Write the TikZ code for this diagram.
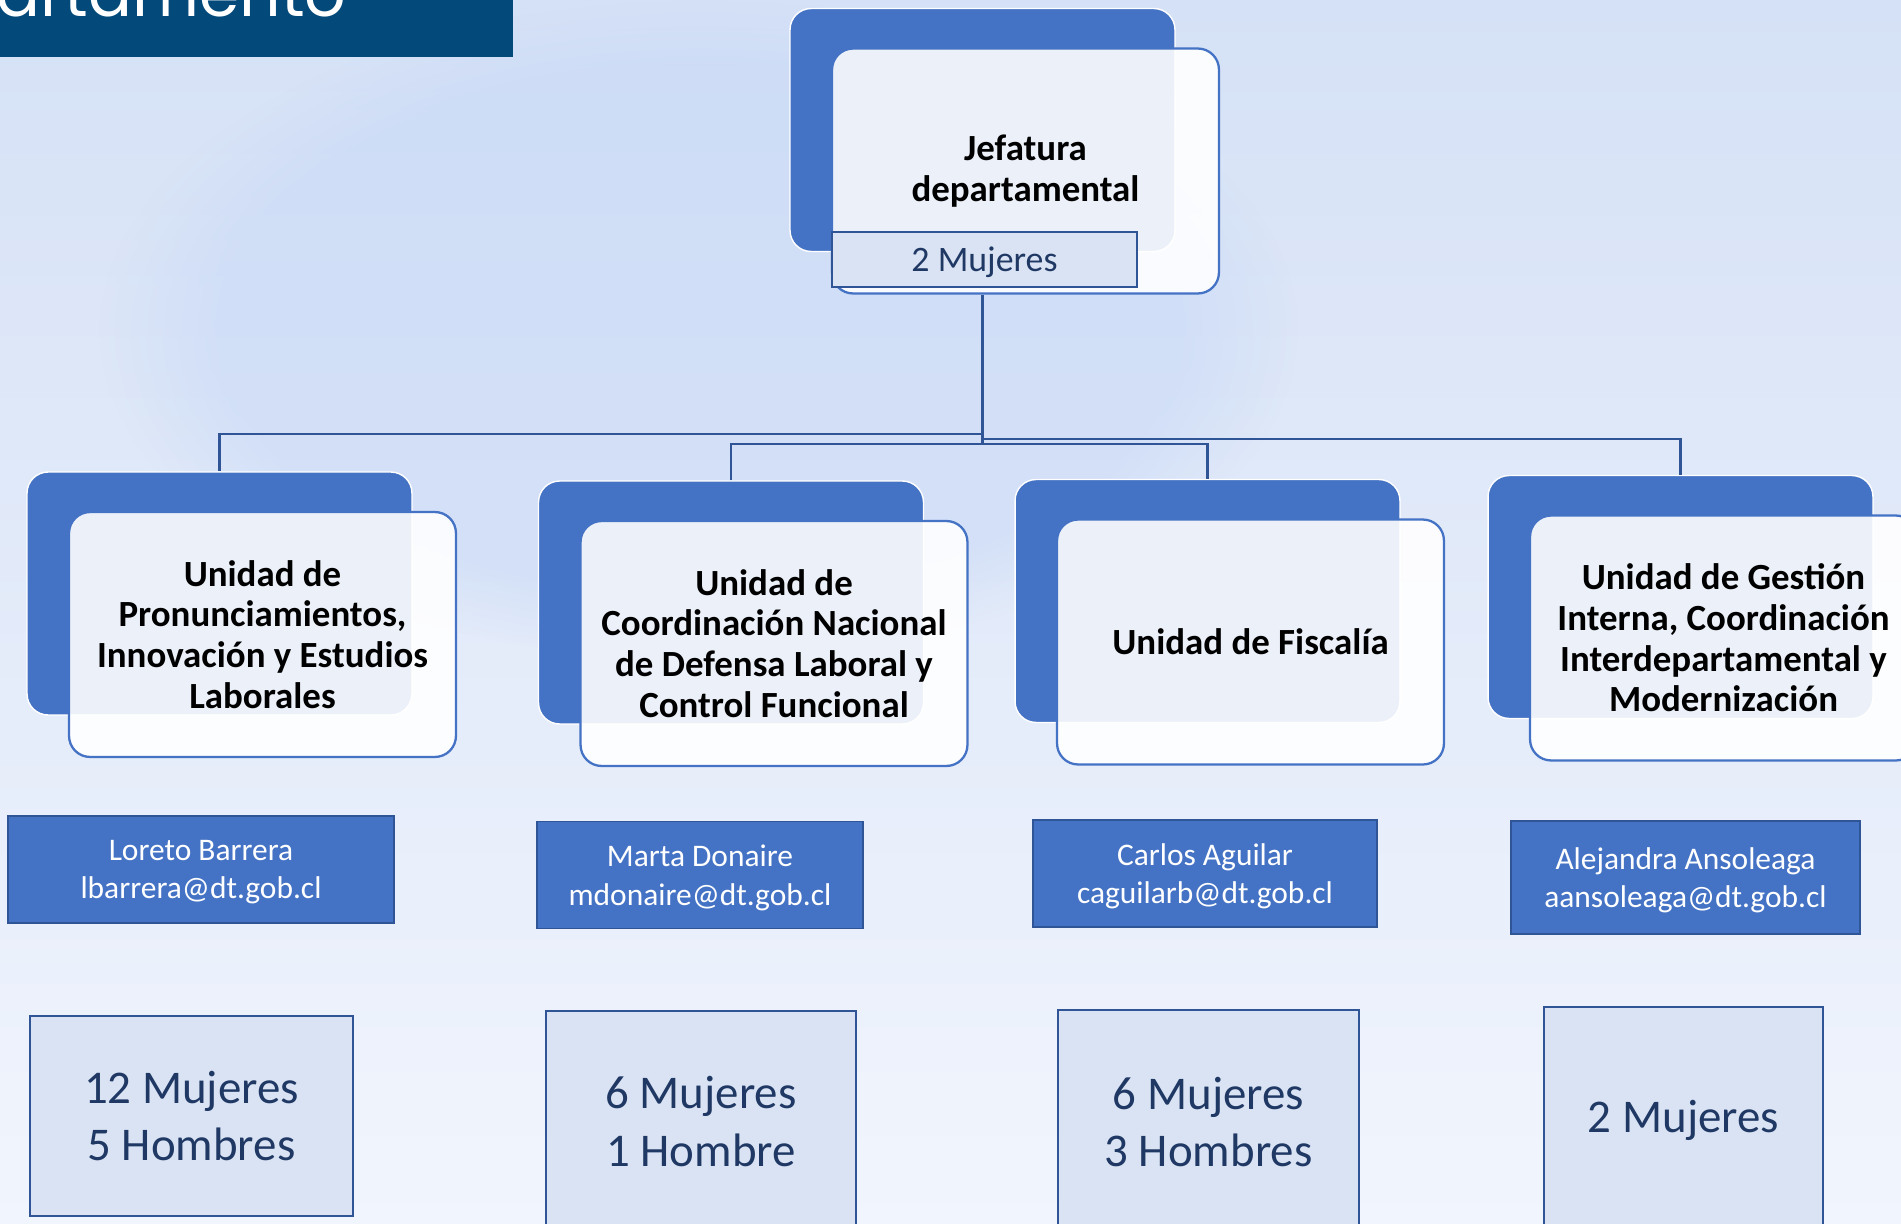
\documentclass[tikz,border=0pt]{standalone}
\usepackage{fontspec}
\setmainfont{Carlito}
\newfontfamily\titlefont{Poppins}
\usepackage{xcolor}
\usepackage{tikz}
\usetikzlibrary{calc,fadings}

\definecolor{accblue}{HTML}{4472C4}
\definecolor{darkblue}{HTML}{2F5597}
\definecolor{paleblue}{HTML}{DAE3F3}
\definecolor{navytext}{HTML}{1F3864}
\definecolor{titleblue}{HTML}{03497A}
\definecolor{bgtop}{HTML}{D5E1F6}
\definecolor{bgbot}{HTML}{F1F5FD}
\definecolor{bgblob}{HTML}{C4D6F6}

\begin{document}
\begin{tikzpicture}[
    x=0.02cm, y=-0.02cm,
    back/.style={fill=accblue, draw=white, line width=0.8pt, rounded corners=12pt, minimum width=7.7cm, minimum height=4.86cm},
    front/.style={fill=white, fill opacity=0.9, text opacity=1, draw=accblue, line width=1.3pt, rounded corners=12pt, minimum width=7.74cm, minimum height=4.9cm, align=center, font=\fontsize{21}{23.2}\selectfont\bfseries},
    namebox/.style={fill=accblue, draw=darkblue, line width=1pt, text=white, align=center, minimum height=2.14cm, text depth=-1.5pt, font=\fontsize{17.9}{22}\selectfont},
    countbox/.style={fill=paleblue, draw=darkblue, line width=1.2pt, text=navytext, align=center, font=\fontsize{26.7}{32.9}\selectfont},
    link/.style={draw=darkblue, line width=1.3pt}
]
\useasboundingbox (0,0) rectangle (1901,1224);
% background
\fill[top color=bgtop, bottom color=bgbot] (0,0) rectangle (1901,1224);
\fill[bgblob, opacity=0.45, path fading=circle with fuzzy edge 20 percent] (700,330) ellipse (600 and 330);

% title bar
\node[fill=titleblue, inner sep=0, minimum width=10.26cm, minimum height=1.14cm, anchor=north west] (title) at (0,0) {};
\node[text=white, font=\titlefont\fontsize{37}{40}\selectfont, anchor=base west, inner sep=0] (titletext) at (-4,16) {artamento};

% head
\node[back] (b0) at (982.5,130) {};
\node[front] (f0) at ($(b0)+(43,41)$) {Jefatura\\departamental};
\node[fill=paleblue, draw=darkblue, line width=1.2pt, text=navytext, minimum width=6.1cm, minimum height=1.1cm, text depth=0pt, font=\fontsize{20.4}{24}\selectfont] (m0) at (984.5,259.5) {2 Mujeres};

% units
\node[back] (b1) at (219.5,593.5) {};
\node[front] (f1) at ($(b1)+(43,41)$) {Unidad de\\Pronunciamientos,\\Innovación y Estudios\\Laborales};
\node[back] (b2) at (731,602.5) {};
\node[front] (f2) at ($(b2)+(43,41)$) {Unidad de\\Coordinación Nacional\\de Defensa Laboral y\\Control Funcional};
\node[back] (b3) at (1207.5,601) {};
\node[front] (f3) at ($(b3)+(43,41)$) {Unidad de Fiscalía};
\node[back] (b4) at (1680.5,597) {};
\node[front] (f4) at ($(b4)+(43,41)$) {Unidad de Gestión\\Interna, Coordinación\\Interdepartamental y\\Modernización};

% heads of unit
\node[namebox, minimum width=7.72cm] (n1) at (201,869.5) {Loreto Barrera\\lbarrera@dt.gob.cl};
\node[namebox, minimum width=6.52cm] (n2) at (700,875) {Marta Donaire\\mdonaire@dt.gob.cl};
\node[namebox, minimum width=6.88cm] (n3) at (1205,873.5) {Carlos Aguilar\\caguilarb@dt.gob.cl};
\node[namebox, minimum width=6.98cm, minimum height=2.26cm] (n4) at (1685.5,877.5) {Alejandra Ansoleaga\\aansoleaga@dt.gob.cl};

% staff
\node[countbox, minimum width=6.46cm, minimum height=4cm] (c1) at (191.5,1116) {12 Mujeres\\5 Hombres};
\node[countbox, minimum width=6.2cm, minimum height=4.42cm] (c2) at (701,1121.5) {6 Mujeres\\1 Hombre};
\node[countbox, minimum width=6.02cm, minimum height=4.48cm] (c3) at (1208.5,1122) {6 Mujeres\\3 Hombres};
\node[countbox, minimum width=5.58cm, minimum height=4.52cm] (c4) at (1683.5,1120) {2 Mujeres};

% connectors
\coordinate (hl) at (982.5,434);
\coordinate (hr) at (982.5,439);
\coordinate (hm) at (982.5,444);
\draw[link] (b0 |- f0.south) -- (hm);
\draw[link] (hl) -| (b1.north);
\draw[link] (hr) -| (b4.north);
\draw[link] (b2.north) |- (hm) -| (b3.north);
\end{tikzpicture}
\end{document}
